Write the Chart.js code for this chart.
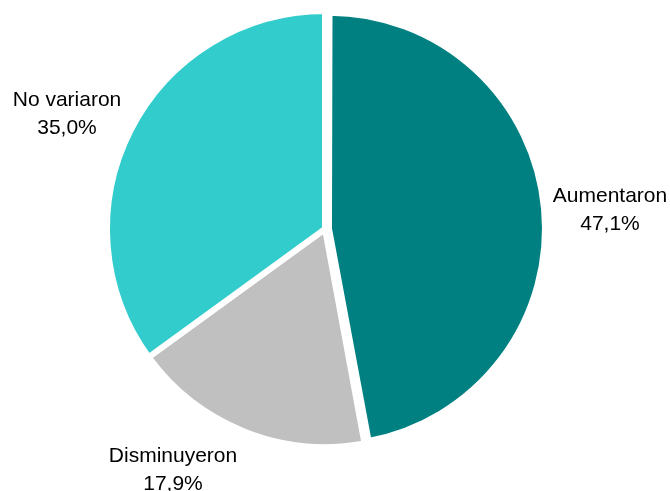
<!DOCTYPE html>
<html>
<head>
<meta charset="utf-8">
<script src="https://cdn.jsdelivr.net/npm/chart.js@4/dist/chart.umd.min.js"></script>
<style>
  html, body { margin: 0; padding: 0; background: #fff; }
  #wrap { width: 670px; height: 491px; }
</style>
</head>
<body>
<div id="wrap"><canvas id="pie" width="670" height="491"></canvas></div>
<script>
// datos del gráfico
const categories = ['Aumentaron', 'Disminuyeron', 'No variaron'];
const shares = [47.1, 17.9, 35.0];
const colors = ['#008080', '#c0c0c0', '#33cccc'];
const explode = [16, 0, 0];

// dónde va cada rótulo, relativo al centro de la torta (px)
const labelPos = [
  { dx: 285, dy: -27 },
  { dx: -152, dy: 233 },
  { dx: -258, dy: -123 },
];

const fmt = (v) => v.toFixed(1).replace('.', ',') + '%';

// Chart.js agranda el radio de la porción desplazada; acá se compensa
// (y se deja un poco más chica, como en el original)
const keepRadius = {
  id: 'keepRadius',
  afterDatasetsUpdate(chart) {
    chart.getDatasetMeta(0).data.forEach((arc, i) => {
      if (!explode[i]) return;
      const fix = 1 - Math.sin(Math.min(Math.PI, arc.circumference || 0));
      arc.outerRadius -= (explode[i] / 4) * fix + 2;
    });
  },
};

const outsideLabels = {
  id: 'outsideLabels',
  afterDatasetsDraw(chart) {
    const { ctx } = chart;
    const arcs = chart.getDatasetMeta(0).data;
    ctx.save();
    ctx.font = '21px "Liberation Sans", Arial, sans-serif';
    ctx.fillStyle = '#000';
    ctx.textAlign = 'center';
    ctx.textBaseline = 'alphabetic';
    arcs.forEach((arc, i) => {
      const x = arc.x + labelPos[i].dx;
      const y = arc.y + labelPos[i].dy;
      ctx.fillText(categories[i], x, y);
      ctx.fillText(fmt(shares[i]), x, y + 28);
    });
    ctx.restore();
  },
};

new Chart(document.getElementById('pie'), {
  type: 'pie',
  data: {
    labels: categories,
    datasets: [{
      data: shares,
      backgroundColor: colors,
      borderColor: '#fff',
      borderWidth: 6,
      offset: explode,
    }],
  },
  options: {
    responsive: false,
    animation: false,
    layout: { padding: { top: 0, bottom: 33, left: 0, right: 20 } },
    plugins: { legend: { display: false }, tooltip: { enabled: false } },
  },
  plugins: [keepRadius, outsideLabels],
});
</script>
</body>
</html>
